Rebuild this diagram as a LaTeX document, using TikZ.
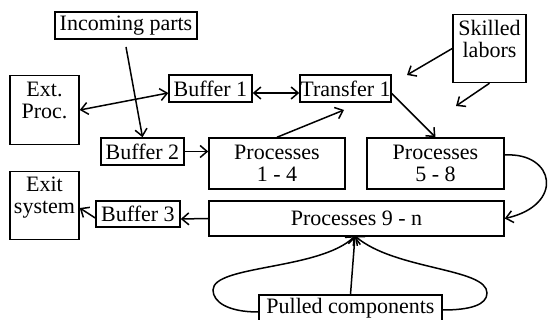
\documentclass[tikz,border=0pt]{standalone}
\usepackage{fontspec}
\setmainfont{Liberation Serif}
\usetikzlibrary{arrows.meta}

\begin{document}
\begin{tikzpicture}[x=1pt, y=1pt,
  font=\fontsize{22}{22.5}\selectfont,
  >={Straight Barb[length=7pt, width=12pt]},
  box/.style={draw, line width=1.5pt, inner sep=0pt, align=center},
  link/.style={->, line width=1.5pt},
  twolink/.style={<->, line width=1.5pt}]

\useasboundingbox (0,0) rectangle (551,320);

%% boxes, placed at their centres
\node[box, minimum width=142, minimum height=27] (incoming) at (126,294.5) {Incoming parts};
\node[box, minimum width=69, minimum height=69, text height=38pt, text depth=20pt]
  (extproc) at (44.5,210) {Ext.\\Proc.};
\node[box, minimum width=83, minimum height=27] (bufone) at (210.5,231.5) {Buffer 1};
\node[box, minimum width=91, minimum height=27] (transferone) at (345.5,231.5) {Transfer 1};
\node[box, minimum width=73, minimum height=68, text height=38pt, text depth=19pt]
  (skilled) at (489.5,271.5) {Skilled\\labors};
\node[box, minimum width=83, minimum height=27] (buftwo) at (142.5,168.5) {Buffer 2};
\node[box, minimum width=136, minimum height=51] (procA) at (277,156.5) {Processes\\1 - 4};
\node[box, minimum width=137, minimum height=51] (procB) at (435.5,156.5) {Processes\\5 - 8};
\node[box, minimum width=295, minimum height=35] (procC) at (356.5,101.5) {Processes 9 - n};
\node[box, minimum width=84, minimum height=26] (bufthree) at (138,106) {Buffer 3};
\node[box, minimum width=69, minimum height=68, text height=38pt, text depth=21pt]
  (exitsys) at (44.5,114.5) {Exit\\system};
\node[box, minimum width=183, minimum height=27] (pulled) at (350.5,11.5) {Pulled components};

%% free ends of the connectors
\coordinate (incfeed) at (126,273);
\coordinate (backfeed) at (344,210);
\coordinate (laborA) at (407,245);
\coordinate (laborB) at (456,214);
\coordinate (pulltip) at (355,84);

%% material flow
\draw[link] (incfeed) -- (buftwo.north);
\draw[twolink] (extproc.east) -- ([yshift=-4.5]bufone.west);
\draw[twolink] ([yshift=-4.5]bufone.east) -- ([yshift=-4.5]transferone.west);
\draw[link] (buftwo.east) -- ([yshift=12]procA.west);
\draw[link] (procA.north) -- (backfeed);
\draw[link] ([yshift=-5]transferone.east) -- (procB.north);
\draw[link] ([yshift=8.5]procB.east) .. controls (555,168) and (565,115) .. (procC.east);
\draw[link] (procC.west) -- ([yshift=-5]bufthree.east);
\draw[link] ([yshift=-4]bufthree.west) -- ([yshift=-2.5]exitsys.east);

%% labor
\draw[link] (skilled.west) -- (laborA);
\draw[link] (skilled.south) -- (laborB);

%% pulled components
\draw[link] (pulled.north) -- (pulltip);
\draw[link] ([yshift=-3.5]pulled.west) .. controls (228,8) and (213,18) .. (213,30)
  .. controls (213,55) and (320,50) .. (pulltip);
\draw[link] ([yshift=-1.5]pulled.east) .. controls (470,10) and (487,15) .. (487,27)
  .. controls (487,52) and (395,50) .. (pulltip);

\end{tikzpicture}
\end{document}
